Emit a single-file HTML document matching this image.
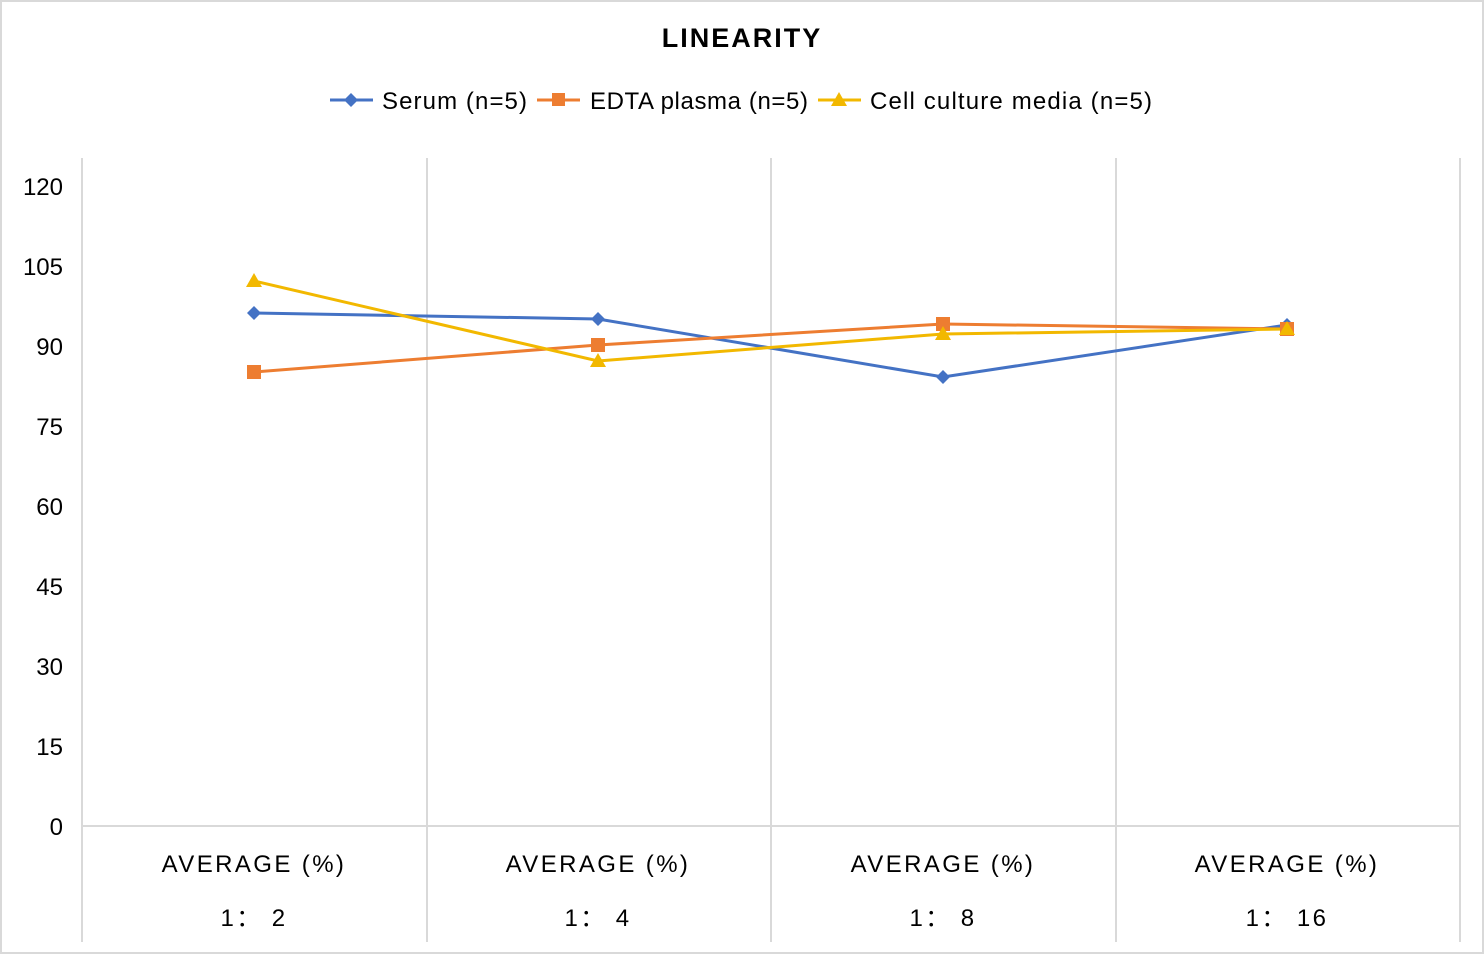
<!DOCTYPE html>
<html><head><meta charset="utf-8"><style>
html,body{margin:0;padding:0;background:#fff}
svg{display:block}
text{font-family:"Liberation Sans",sans-serif;fill:#000}
</style></head><body>
<svg width="1484" height="955" viewBox="0 0 1484 955" xmlns="http://www.w3.org/2000/svg">
<rect x="1" y="1" width="1482" height="952" fill="#fff" stroke="#d9d9d9" stroke-width="2"/>
<text x="742" y="47" text-anchor="middle" font-size="27" font-weight="bold" letter-spacing="2">LINEARITY</text>
<!-- legend -->
<line x1="330" y1="100" x2="373" y2="100" stroke="#4472c4" stroke-width="3"/>
<path d="M351 93 L358 100 L351 107 L344 100Z" fill="#4472c4"/>
<text x="382" y="109" font-size="24" textLength="145" lengthAdjust="spacing">Serum (n=5)</text>
<line x1="537" y1="100" x2="580" y2="100" stroke="#ed7d31" stroke-width="3"/>
<rect x="552" y="93" width="13" height="13" fill="#ed7d31"/>
<text x="590" y="109" font-size="24" textLength="218" lengthAdjust="spacing">EDTA plasma (n=5)</text>
<line x1="818" y1="100" x2="861" y2="100" stroke="#f2b800" stroke-width="3"/>
<path d="M839 92 L847 106 L831 106Z" fill="#f2b800"/>
<text x="870" y="109" font-size="24" textLength="282" lengthAdjust="spacing">Cell culture media (n=5)</text>
<!-- grid -->
<g stroke="#d9d9d9" stroke-width="2">
<line x1="82" y1="158" x2="82" y2="942"/>
<line x1="427" y1="158" x2="427" y2="942"/>
<line x1="771" y1="158" x2="771" y2="942"/>
<line x1="1116" y1="158" x2="1116" y2="942"/>
<line x1="1460" y1="158" x2="1460" y2="942"/>
<line x1="82" y1="826" x2="1460" y2="826"/>
</g>
<g font-size="24" text-anchor="end">
<text x="63" y="195">120</text><text x="63" y="275">105</text><text x="63" y="355">90</text>
<text x="63" y="435">75</text><text x="63" y="515">60</text><text x="63" y="595">45</text>
<text x="63" y="675">30</text><text x="63" y="755">15</text><text x="63" y="835">0</text>
</g>
<g font-size="24" text-anchor="middle" letter-spacing="2.4">
<text x="254" y="872">AVERAGE (%)</text><text x="598" y="872">AVERAGE (%)</text>
<text x="943" y="872">AVERAGE (%)</text><text x="1287" y="872">AVERAGE (%)</text>
<text x="254" y="926">1： 2</text><text x="598" y="926">1： 4</text>
<text x="943" y="926">1： 8</text><text x="1287" y="926">1： 16</text>
</g>
<!-- series -->
<polyline points="254,313 598,319 943,377 1287,325" fill="none" stroke="#4472c4" stroke-width="3"/>
<polyline points="254,372 598,345 943,324 1287,329" fill="none" stroke="#ed7d31" stroke-width="3"/>
<polyline points="254,281 598,361 943,334 1287,329" fill="none" stroke="#f2b800" stroke-width="3"/>
<g fill="#4472c4">
<path d="M254 306l7 7-7 7-7-7z"/><path d="M598 312l7 7-7 7-7-7z"/><path d="M943 370l7 7-7 7-7-7z"/><path d="M1287 318l7 7-7 7-7-7z"/>
</g>
<g fill="#ed7d31">
<rect x="247" y="365" width="14" height="14"/><rect x="591" y="338" width="14" height="14"/><rect x="936" y="317" width="14" height="14"/><rect x="1280" y="322" width="14" height="14"/>
</g>
<g fill="#f2b800">
<path d="M254 273l8 14h-16z"/><path d="M598 353l8 14h-16z"/><path d="M943 326l8 14h-16z"/><path d="M1287 321l8 14h-16z"/>
</g>
</svg>
</body></html>
